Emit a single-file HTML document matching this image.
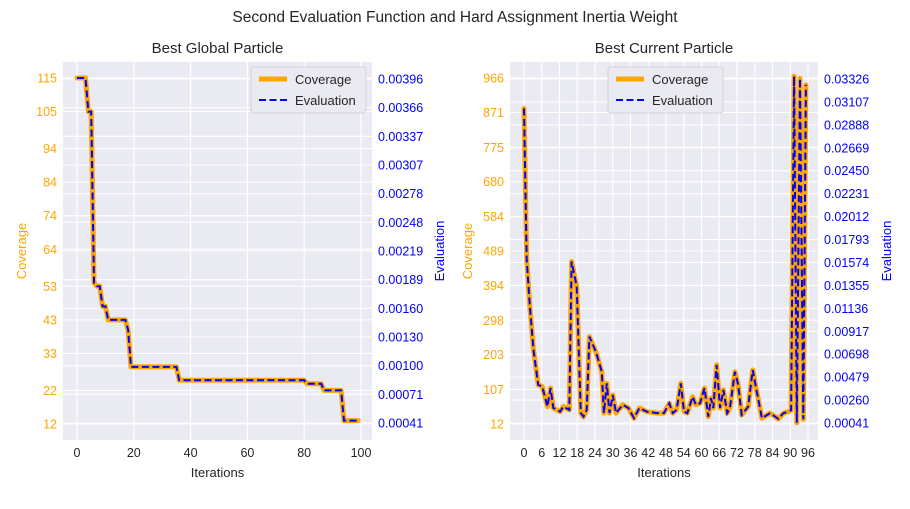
<!DOCTYPE html>
<html><head><meta charset="utf-8"><style>
body{margin:0;background:#fff;}
svg{display:block;font-family:"Liberation Sans","DejaVu Sans",sans-serif;}
</style></head><body>
<svg id="c" width="910" height="509"></svg>
<script>
const leftIters=[0,1,2,3,4,5,6,7,8,9,10,11,12,13,14,15,16,17,18,19,20,25,30,35,36,40,50,60,70,80,81,85,86,87,90,93,94,95,99];
const leftCoverage=[115,115,115,115,105,105,54,53,53,47,47,43,43,43,43,43,43,43,40,29,29,29,29,29,25,25,25,25,25,25,24,24,24,22,22,22,13,13,13];
const rightIters=[0,0.9,2,3.2,4.8,6.2,7.9,9,9.9,12.2,13.3,15.3,16.1,17.8,19.2,20.1,21.2,22.1,24.3,26.3,27,28,28.9,30,31.1,33.4,35.3,37.2,39,41.5,44.9,47.3,49.1,50.3,51.6,53,54.1,55.2,57,58.1,59.5,61,62.3,63.2,64,65.1,66.3,67.4,68.7,69.6,71.3,72.4,73.6,75.8,77.3,78.7,80.4,83.2,86,87.7,89.4,90.3,91.3,92.2,93.3,94.4,95.3];
const rightCoverage=[882,464,335,216,120,115,60,111,56,46,60,51,460,391,42,32,51,253,211,156,42,124,42,92,42,65,56,28,56,46,42,42,69,42,51,124,46,42,87,65,69,111,32,83,56,175,56,106,42,56,156,120,37,60,161,101,28,42,26,42,46,50,971,15,965,25,947];
const leftCovTicks=[12,22,33,43,53,64,74,84,94,105,115];
const leftEvalTicks=["0.00041","0.00071","0.00100","0.00130","0.00160","0.00189","0.00219","0.00248","0.00278","0.00307","0.00337","0.00366","0.00396"];
const leftXTicks=[0,20,40,60,80,100];
const rightCovTicks=[12,107,203,298,394,489,584,680,775,871,966];
const rightEvalTicks=["0.00041","0.00260","0.00479","0.00698","0.00917","0.01136","0.01355","0.01574","0.01793","0.02012","0.02231","0.02450","0.02669","0.02888","0.03107","0.03326"];
const rightXTicks=[0,6,12,18,24,30,36,42,48,54,60,66,72,78,84,90,96];

const NS="http://www.w3.org/2000/svg";
const svg=document.getElementById('c');
function el(tag,attrs,parent,text){const e=document.createElementNS(NS,tag);for(const k in attrs)e.setAttribute(k,attrs[k]);if(text!==undefined)e.textContent=text;(parent||svg).appendChild(e);return e;}

let t=el('text',{x:455,y:22,'text-anchor':'middle','font-size':15.5,fill:'#262626'},svg,'Second Evaluation Function and Hard Assignment Inertia Weight');


function panel(cfg){
  const g=el('g',{});
  
  const L=cfg.L,R=cfg.R,T=62,B=440;
  const bg=el('rect',{x:L,y:T,width:R-L,height:B-T,fill:'#eaeaf2'},g);
  
  const xs=v=>cfg.x0+(v-0)*(cfg.x1-cfg.x0)/cfg.xmax;
  const ys=v=>424-(v-cfg.cmin)*(424-78)/(cfg.cmax-cfg.cmin);
  const n=cfg.evalTicks.length;
  const ye=i=>cfg.eb-i*(cfg.eb-cfg.et)/(n-1);
  cfg.xticks.forEach(v=>{const l=el('line',{x1:xs(v),x2:xs(v),y1:T,y2:B,stroke:'#fff','stroke-width':1.1},g);});
  cfg.covTicks.forEach(v=>{const l=el('line',{x1:L,x2:R,y1:ys(v),y2:ys(v),stroke:'#fff','stroke-width':1.1},g);});
  cfg.evalTicks.forEach((s,i)=>{const l=el('line',{x1:L,x2:R,y1:ye(i),y2:ye(i),stroke:'#fff','stroke-width':1.1},g);});
  cfg.xticks.forEach(v=>{const e=el('text',{x:xs(v),y:457,'text-anchor':'middle','font-size':12.5,fill:'#262626'},g,String(v));});
  cfg.covTicks.forEach(v=>{const e=el('text',{x:L-6,y:ys(v)+4.5,'text-anchor':'end','font-size':12.5,fill:'#ffa500'},g,String(v));});
  cfg.evalTicks.forEach((s,i)=>{const e=el('text',{x:R+6,y:ye(i)+4.5,'font-size':12.5,fill:'#0000ff'},g,s);});
  let e=el('text',{x:(L+R)/2,y:53,'text-anchor':'middle','font-size':15,fill:'#262626'},g,cfg.title);
  e=el('text',{x:(L+R)/2,y:477,'text-anchor':'middle','font-size':13,fill:'#262626'},g,'Iterations');
  e=el('text',{x:0,y:0,'text-anchor':'middle','font-size':13,fill:'#ffa500',transform:`translate(${cfg.cl},251) rotate(-90)`},g,'Coverage');
  e=el('text',{x:0,y:0,'text-anchor':'middle','font-size':13,fill:'#0000ff',transform:`translate(${cfg.el},251) rotate(-90)`},g,'Evaluation');
  const pts=cfg.iters.map((v,i)=>xs(v).toFixed(1)+','+ys(cfg.cov[i]).toFixed(1)).join(' ');
  e=el('polyline',{points:pts,fill:'none',stroke:'#ffa500','stroke-width':5,'stroke-linejoin':'round','stroke-linecap':'round'},g);
  e=el('polyline',{points:pts,fill:'none',stroke:'#0000ff','stroke-width':2,'stroke-dasharray':'7,3.5'},g);
  const lg=el('g',{},g);
  const lx=cfg.lx;
  el('rect',{x:lx,y:67,width:115,height:46,rx:3,fill:'#eaeaf2',stroke:'#cccccc','stroke-opacity':0.8},lg);
  e=el('line',{x1:lx+8,x2:lx+36,y1:79,y2:79,stroke:'#ffa500','stroke-width':5},lg);
  e=el('text',{x:lx+44,y:84,'font-size':13,fill:'#262626'},lg,'Coverage');
  e=el('line',{x1:lx+8,x2:lx+36,y1:100,y2:100,stroke:'#0000ff','stroke-width':2,'stroke-dasharray':'7,3.5'},lg);
  e=el('text',{x:lx+44,y:105,'font-size':13,fill:'#262626'},lg,'Evaluation');
}
panel({name:'best-global-particle-panel',title:'Best Global Particle',L:63,R:372,x0:77,x1:361,xmax:100,cmin:12,cmax:115,eb:423,et:79,
  xticks:leftXTicks,covTicks:leftCovTicks,evalTicks:leftEvalTicks,iters:leftIters,cov:leftCoverage,cl:26,el:444,lx:251});
panel({name:'best-current-particle-panel',title:'Best Current Particle',L:510,R:818,x0:524,x1:808,xmax:96,cmin:12,cmax:966,eb:423,et:79,
  xticks:rightXTicks,covTicks:rightCovTicks,evalTicks:rightEvalTicks,iters:rightIters,cov:rightCoverage,cl:472,el:891,lx:608});
</script>
</body></html>
